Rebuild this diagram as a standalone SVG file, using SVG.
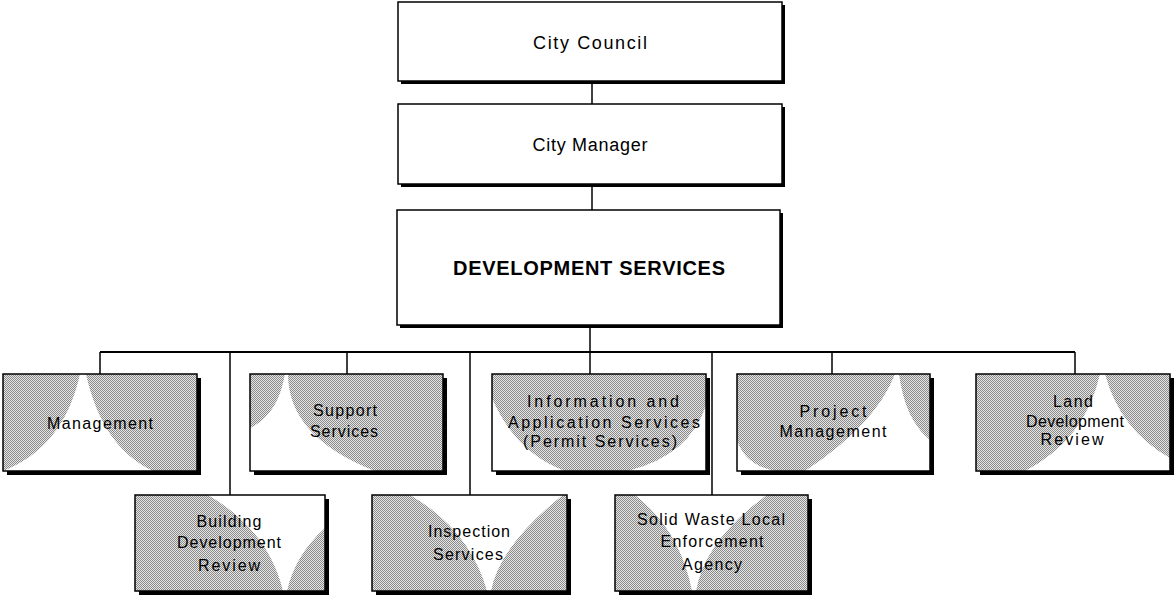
<svg xmlns="http://www.w3.org/2000/svg" width="1176" height="598" viewBox="0 0 1176 598">
<defs>
<pattern id="dot" x="0" y="0" width="2" height="2" patternUnits="userSpaceOnUse">
<rect width="2" height="2" fill="#e6e6e6"/>
<rect width="1" height="1" fill="#8a8a8a"/>
<rect x="1" y="1" width="1" height="1" fill="#8a8a8a"/>
</pattern>
</defs>
<style>
.sh{fill:#000}
.bw{fill:#fff;stroke:#000;stroke-width:1.5}
.bg{fill:url(#dot)}
.bo{fill:none;stroke:#000;stroke-width:1.5}
.wh{fill:#fff}
.t{font-family:"Liberation Sans",Arial,sans-serif;font-size:16px;fill:#000;text-anchor:middle}
.tl{font-family:"Liberation Sans",Arial,sans-serif;font-size:18px;fill:#000;text-anchor:middle}
.tb{font-family:"Liberation Sans",Arial,sans-serif;font-size:20px;font-weight:bold;fill:#000;text-anchor:middle}
.c{fill:none;stroke:#000;stroke-width:1.5}
</style>
<rect width="1176" height="598" fill="#fff"/>
<g id="connectors">
<line class="c" x1="592" y1="82" x2="592" y2="104"/>
<line class="c" x1="592" y1="185" x2="592" y2="210"/>
<line class="c" x1="590" y1="327" x2="590" y2="375"/>
<line class="c" x1="100" y1="352" x2="1075" y2="352" style="stroke-width:2"/>
<line class="c" x1="100" y1="352" x2="100" y2="375"/>
<line class="c" x1="347" y1="352" x2="347" y2="375"/>
<line class="c" x1="832" y1="352" x2="832" y2="375"/>
<line class="c" x1="1075" y1="352" x2="1075" y2="375"/>
<line class="c" x1="230" y1="352" x2="230" y2="495"/>
<line class="c" x1="470" y1="352" x2="470" y2="495"/>
<line class="c" x1="712" y1="352" x2="712" y2="495"/>
</g>
<g id="city-council">
<rect class="sh" x="401" y="5" width="384" height="79"/>
<rect class="bw" x="398" y="2" width="384" height="79"/>
<text class="tl" x="590" y="49" textLength="114" lengthAdjust="spacing">City Council</text>
</g>
<g id="city-manager">
<rect class="sh" x="401" y="107" width="384" height="80"/>
<rect class="bw" x="398" y="104" width="384" height="80"/>
<text class="tl" x="590" y="151" textLength="115" lengthAdjust="spacing">City Manager</text>
</g>
<g id="development-services">
<rect class="sh" x="400" y="213" width="383" height="115"/>
<rect class="bw" x="397" y="210" width="383" height="115"/>
<text class="tb" x="589" y="275" textLength="272" lengthAdjust="spacing">DEVELOPMENT SERVICES</text>
</g>
<g id="management">
<rect class="sh" x="7" y="378" width="194" height="97"/>
<rect class="bg" x="3" y="374" width="194" height="97"/>
<path class="wh" d="M80,374 Q64,447 3,471 L153,471 Q102,447 86,374 Z"/>
<rect class="bo" x="3" y="374" width="194" height="97"/>
<text class="t" x="100" y="429" textLength="106" lengthAdjust="spacing">Management</text>
</g>
<g id="support-services">
<rect class="sh" x="254" y="378" width="193" height="97"/>
<rect class="bg" x="250" y="374" width="193" height="97"/>
<path class="wh" d="M285,374 Q278,415 250,428 L250,471 L375,471 Q288,437 288,374 Z"/>
<rect class="bo" x="250" y="374" width="193" height="97"/>
<text class="t" x="345" y="416" textLength="64" lengthAdjust="spacing">Support</text>
<text class="t" x="344" y="437" textLength="68" lengthAdjust="spacing">Services</text>
</g>
<g id="information-application-services">
<rect class="sh" x="496" y="378" width="214" height="97"/>
<rect class="bg" x="492" y="374" width="214" height="97"/>
<path class="wh" d="M492,398 Q515,452 565,471 L492,471 Z"/>
<path class="wh" d="M706,405 Q690,455 628,471 L706,471 Z"/>
<rect class="bo" x="492" y="374" width="214" height="97"/>
<text class="t" x="603" y="407" textLength="152" lengthAdjust="spacing">Information and</text>
<text class="t" x="604" y="428" textLength="192" lengthAdjust="spacing">Application Services</text>
<text class="t" x="600" y="447" textLength="154" lengthAdjust="spacing">(Permit Services)</text>
</g>
<g id="project-management">
<rect class="sh" x="741" y="378" width="193" height="97"/>
<rect class="bg" x="737" y="374" width="193" height="97"/>
<path class="wh" d="M895,374 Q876,424 805,471 L930,471 L930,440 Q905,420 899,374 Z"/>
<path class="wh" d="M737,440 Q745,465 775,471 L737,471 Z"/>
<rect class="bo" x="737" y="374" width="193" height="97"/>
<text class="t" x="833" y="417" textLength="67" lengthAdjust="spacing">Project</text>
<text class="t" x="833" y="437" textLength="107" lengthAdjust="spacing">Management</text>
</g>
<g id="land-development-review">
<rect class="sh" x="980" y="378" width="194" height="97"/>
<rect class="bg" x="976" y="374" width="194" height="97"/>
<path class="wh" d="M1100,374 Q1085,440 1025,471 L1170,471 L1170,458 Q1120,430 1105,374 Z"/>
<rect class="bo" x="976" y="374" width="194" height="97"/>
<text class="t" x="1073" y="407" textLength="40" lengthAdjust="spacing">Land</text>
<text class="t" x="1075" y="427" textLength="98" lengthAdjust="spacing">Development</text>
<text class="t" x="1072" y="445" textLength="63" lengthAdjust="spacing">Review</text>
</g>
<g id="building-development-review">
<rect class="sh" x="139" y="499" width="190" height="96"/>
<rect class="bg" x="135" y="495" width="190" height="96"/>
<path class="wh" d="M208,495 L325,495 L325,528 Q295,555 287,591 L283,591 Q268,530 208,495 Z"/>
<rect class="bo" x="135" y="495" width="190" height="96"/>
<text class="t" x="229" y="527" textLength="65" lengthAdjust="spacing">Building</text>
<text class="t" x="229" y="548" textLength="104" lengthAdjust="spacing">Development</text>
<text class="t" x="229" y="571" textLength="62" lengthAdjust="spacing">Review</text>
</g>
<g id="inspection-services">
<rect class="sh" x="376" y="499" width="195" height="96"/>
<rect class="bg" x="372" y="495" width="195" height="96"/>
<path class="wh" d="M410,495 L563,495 Q500,545 491,591 L487,591 Q470,530 410,495 Z"/>
<rect class="bo" x="372" y="495" width="195" height="96"/>
<text class="t" x="469" y="537" textLength="82" lengthAdjust="spacing">Inspection</text>
<text class="t" x="468" y="560" textLength="70" lengthAdjust="spacing">Services</text>
</g>
<g id="solid-waste-local-enforcement-agency">
<rect class="sh" x="619" y="499" width="193" height="96"/>
<rect class="bg" x="615" y="495" width="193" height="96"/>
<path class="wh" d="M635,495 L767,495 Q705,540 696,591 L692,591 Q680,530 635,495 Z"/>
<rect class="bo" x="615" y="495" width="193" height="96"/>
<text class="t" x="711" y="525" textLength="148" lengthAdjust="spacing">Solid Waste Local</text>
<text class="t" x="712" y="547" textLength="103" lengthAdjust="spacing">Enforcement</text>
<text class="t" x="712" y="570" textLength="60" lengthAdjust="spacing">Agency</text>
</g>
</svg>
